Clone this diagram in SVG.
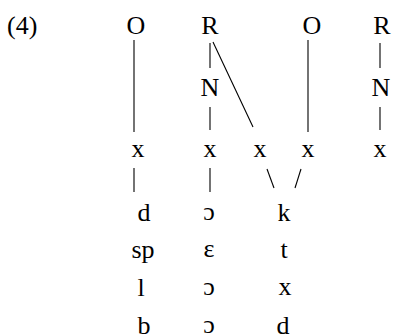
<svg xmlns="http://www.w3.org/2000/svg" width="395" height="335" viewBox="0 0 395 335">
<style>
text{font-family:"Liberation Serif","Times New Roman",serif;font-size:26px;fill:#000;text-anchor:middle}
.c line{stroke:#000;stroke-width:1.1}
</style>
<rect width="395" height="335" fill="#fff"/>
<text x="7" y="34" style="text-anchor:start">(4)</text>
<g class="c" id="connectors">
<line x1="134" y1="40" x2="134" y2="132"/>
<line x1="210" y1="43" x2="210" y2="68"/>
<line x1="210" y1="107" x2="210" y2="130"/>
<line x1="213" y1="42" x2="253" y2="127"/>
<line x1="308" y1="40" x2="308" y2="132"/>
<line x1="380" y1="43" x2="380" y2="68"/>
<line x1="380" y1="107" x2="380" y2="130"/>
<line x1="134" y1="168" x2="134" y2="192"/>
<line x1="210" y1="168" x2="210" y2="192"/>
<line x1="267" y1="169" x2="274" y2="188"/>
<line x1="301" y1="169" x2="295" y2="188"/>
</g>
<g id="O1"><text x="136" y="34">O</text></g>
<g id="R1"><text x="210" y="34">R</text></g>
<g id="O2"><text x="312" y="34">O</text></g>
<g id="R2"><text x="382" y="34">R</text></g>
<g id="N1"><text x="210" y="96">N</text></g>
<g id="N2"><text x="381" y="96">N</text></g>
<g id="x1"><text x="138" y="157">x</text></g>
<g id="x2"><text x="210" y="157">x</text></g>
<g id="x3"><text x="260" y="157">x</text></g>
<g id="x4"><text x="308" y="157">x</text></g>
<g id="x5"><text x="380" y="157">x</text></g>
<g id="col1">
<text x="144" y="221">d</text>
<text x="143" y="258">sp</text>
<text x="141" y="296">l</text>
<text x="144" y="334">b</text>
</g>
<g id="col2">
<text x="209" y="220">ɔ</text>
<text x="209" y="257">ε</text>
<text x="209" y="295">ɔ</text>
<text x="209" y="333">ɔ</text>
</g>
<g id="col3">
<text x="284" y="221">k</text>
<text x="284" y="258">t</text>
<text x="285" y="295">x</text>
<text x="283" y="334">d</text>
</g>
</svg>
